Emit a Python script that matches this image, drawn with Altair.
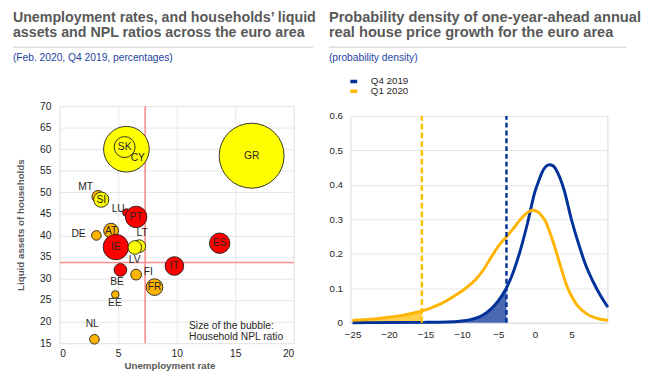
import altair as alt
import pandas as pd

FONT = "Liberation Sans"
TITLE_GREY = "#595959"
SUB_BLUE = "#2443a3"
TXT = "#262626"

# ---------------- Left panel data ----------------
countries = ["GR", "CY", "SK", "MT", "SI", "LU", "PT", "AT", "DE", "IE",
             "LT", "LV", "BE", "FI", "FR", "IT", "ES", "EE", "NL"]
unemployment = [16.4, 5.7, 5.55, 3.28, 3.55, 5.7, 6.53, 4.39, 3.14, 4.8,
                6.8, 6.42, 5.19, 6.53, 8.1, 9.8, 13.67, 4.75, 2.97]
liquid_assets = [58.5, 60.0, 60.5, 49.0, 48.3, 45.3, 44.3, 41.1, 40.0, 37.3,
                 37.5, 37.2, 32.0, 30.9, 28.0, 32.9, 38.2, 26.3, 15.9]
npl_ratio = [36.5, 18.0, 3.8, 1.3, 2.0, 0.5, 4.0, 1.9, 0.8, 5.6,
             1.4, 1.6, 1.4, 1.0, 2.4, 3.0, 3.6, 0.5, 0.8]
bubble_group = ["yellow", "yellow", "yellow", "orange", "yellow", "red", "red", "orange", "orange", "red",
                "yellow", "yellow", "red", "orange", "orange", "red", "red", "orange", "orange"]
label_x = [16.4, 6.67, 5.55, 2.22, 3.55, 5.0, 6.53, 4.39, 1.61, 4.8,
           7.05, 6.4, 4.9, 7.57, 8.1, 9.8, 13.67, 4.72, 2.78]
label_y = [58.5, 58.0, 60.5, 51.2, 48.3, 46.0, 44.3, 41.1, 40.2, 37.3,
           40.5, 34.2, 29.1, 31.6, 28.0, 32.9, 38.2, 24.2, 19.35]
ea_unemployment = 7.3
ea_liquid = 33.7
note_lines = ["Size of the bubble:", "Household NPL ratio"]
note_x = [11.05, 11.05]
note_y = [19.0, 16.3]

left_title = ["Unemployment rates, and households\u2019 liquid",
              "assets and NPL ratios across the euro area"]
left_subtitle = "(Feb. 2020, Q4 2019, percentages)"

# ---------------- Right panel data ----------------
q4_x = [-25, -20, -15, -12, -10, -9, -8, -7, -6, -5, -4, -3.9, -3, -2, -1, 0, 0.5, 1, 1.5, 2,
        2.5, 3, 4, 5, 6, 7, 8, 9, 10]
q4_d = [0.0, 0.0005, 0.001, 0.002, 0.005, 0.008, 0.014, 0.024, 0.04, 0.064, 0.097, 0.101, 0.145,
        0.21, 0.29, 0.38, 0.41, 0.437, 0.453, 0.458, 0.455, 0.44, 0.385, 0.3, 0.228, 0.165,
        0.118, 0.078, 0.045]
q1_x = [-25, -22, -20, -18, -16, -15.5, -15, -14, -13, -12, -11, -10, -9, -8, -7, -6, -5, -4, -3,
        -2, -1, -0.3, 0.5, 1, 1.5, 2, 2.5, 3, 3.5, 4, 4.5, 5, 5.8, 7, 8, 9, 10]
q1_d = [0.007, 0.011, 0.016, 0.022, 0.031, 0.034, 0.037, 0.045, 0.054, 0.065, 0.078, 0.092, 0.108,
        0.128, 0.155, 0.19, 0.222, 0.247, 0.272, 0.299, 0.32, 0.326, 0.32, 0.308, 0.292, 0.265,
        0.234, 0.2, 0.165, 0.13, 0.1, 0.078, 0.05, 0.027, 0.016, 0.01, 0.007]
q4_threshold = -3.9
q1_threshold = -15.5
x_max = 10
y_max = 0.6
series_names = ["Q4 2019", "Q1 2020"]
series_colors = ["#003299", "#ffb400"]

right_title = ["Probability density of one-year-ahead annual",
               "real house price growth for the euro area"]
right_subtitle = "(probability density)"

# ================= Left panel =================
df_b = pd.DataFrame({"country": countries, "unemployment": unemployment,
                     "liquid": liquid_assets, "npl": npl_ratio, "group": bubble_group,
                     "idx": list(range(len(countries)))})
df_lab = pd.DataFrame({"country": countries, "unemployment": label_x, "liquid": label_y})
df_note = pd.DataFrame({"t": note_lines, "unemployment": note_x, "liquid": note_y})

xl = alt.X("unemployment:Q", scale=alt.Scale(domain=[0, 20], nice=False),
           axis=alt.Axis(values=[0, 5, 10, 15, 20], title="Unemployment rate", grid=True,
                         gridColor="#e6e6e6", ticks=False, domain=False, labelFontSize=10.5,
                         labelColor=TXT, labelPadding=6, titleFontSize=10, titleColor=TITLE_GREY,
                         titleFontWeight="bold", titlePadding=2, titleX=112.5))
yl = alt.Y("liquid:Q", scale=alt.Scale(domain=[15, 70], nice=False),
           axis=alt.Axis(values=list(range(15, 71, 5)), title="Liquid assets of households",
                         grid=True, gridColor="#e6e6e6", ticks=False, domain=False,
                         labelFontSize=10.5, labelColor=TXT, labelPadding=9, titleFontSize=10,
                         titleColor=TITLE_GREY, titleFontWeight="bold", titlePadding=14))

vline = alt.Chart(pd.DataFrame({"unemployment": [ea_unemployment]})).mark_rule(
    color="#ff8c8c", strokeWidth=1.6).encode(x=xl)
hline = alt.Chart(pd.DataFrame({"liquid": [ea_liquid]})).mark_rule(
    color="#ff8c8c", strokeWidth=1.6).encode(y=yl)

bubbles = alt.Chart(df_b).mark_circle(opacity=1, stroke="#1a1a1a", strokeWidth=0.9).encode(
    x=xl, y=yl,
    size=alt.Size("npl:Q", scale=alt.Scale(domain=[0, 36.5], range=[0, 4435]), legend=None),
    color=alt.Color("group:N", scale=alt.Scale(domain=["red", "yellow", "orange"],
                                              range=["#ff0000", "#ffff00", "#ffb400"]), legend=None),
    order=alt.Order("idx:Q"))

labels = alt.Chart(df_lab).mark_text(fontSize=10.5, color=TXT, align="center",
                                     baseline="middle").encode(x=xl, y=yl, text="country:N")
note = alt.Chart(df_note).mark_text(fontSize=10.5, color=TXT, align="left",
                                    baseline="middle").encode(x=xl, y=yl, text="t:N")


def header(lines, sub, x0, x1, tag, fs):
    hdr = pd.DataFrame({"t": [lines[0], lines[1]], "k": [tag + "1", tag + "2"]})
    t1 = alt.Chart(hdr).transform_filter(alt.datum.k == tag + "1").mark_text(
        fontSize=fs, fontWeight="bold", color=TITLE_GREY, align="left", baseline="alphabetic"
    ).encode(x=alt.value(x0), y=alt.value(-86), text="t:N")
    t2 = alt.Chart(hdr).transform_filter(alt.datum.k == tag + "2").mark_text(
        fontSize=fs, fontWeight="bold", color=TITLE_GREY, align="left", baseline="alphabetic"
    ).encode(x=alt.value(x0), y=alt.value(-70.5), text="t:N")
    sep = alt.Chart(pd.DataFrame({"s": [tag]})).mark_rule(color="#cccccc", strokeWidth=1).encode(
        x=alt.value(x0), x2=alt.value(x1), y=alt.value(-60.5))
    st = alt.Chart(pd.DataFrame({"t": [sub]})).mark_text(
        fontSize=10.5, color=SUB_BLUE, align="left", baseline="alphabetic"
    ).encode(x=alt.value(x0), y=alt.value(-46), text="t:N")
    return [t1, t2, sep, st]


left = alt.layer(vline, hline, bubbles, labels, note,
                 *header(left_title, left_subtitle, -48, 260, "L", 14.6)).properties(
    width=240, height=243, view=alt.ViewBackground(stroke="#e6e6e6"))

# ================= Right panel =================
df_q4 = pd.DataFrame({"x": q4_x, "density": q4_d, "series": series_names[0]})
df_q1 = pd.DataFrame({"x": q1_x, "density": q1_d, "series": series_names[1]})
df_lines = pd.concat([df_q4, df_q1], ignore_index=True)

RH = 222  # full panel height; the plotting frame starts 10px below its top
xr = alt.X("x:Q", scale=alt.Scale(domain=[-25.3, x_max], nice=False, zero=False),
           axis=alt.Axis(values=[-25, -20, -15, -10, -5, 0, 5], title=None, grid=False,
                         ticks=False, domain=True, domainColor="#d9d9d9", labelFontSize=10,
                         labelColor=TXT, labelPadding=7))
yr = alt.Y("density:Q", scale=alt.Scale(domain=[0, y_max], range=[RH, 10], nice=False),
           axis=alt.Axis(values=[0, 0.1, 0.2, 0.3, 0.4, 0.5, 0.6], format="~g", title=None,
                         grid=True, gridColor="#e6e6e6", ticks=False, domain=True,
                         domainColor="#d9d9d9", labelFontSize=10, labelColor=TXT,
                         labelPadding=8))

area_q1 = alt.Chart(df_q1).transform_filter(alt.datum.x <= q1_threshold).mark_area(
    color="#ffcf4a", interpolate="monotone", opacity=1).encode(x=xr, y=yr)
area_q4 = alt.Chart(df_q4).transform_filter(alt.datum.x <= q4_threshold).mark_area(
    color="#4a69b3", interpolate="monotone", opacity=1).encode(x=xr, y=yr)

lines = alt.Chart(df_lines).mark_line(strokeWidth=3, interpolate="monotone").encode(
    x=xr, y=yr,
    color=alt.Color("series:N", scale=alt.Scale(domain=series_names, range=series_colors),
                    legend=alt.Legend(title=None, orient="none", legendX=-2, legendY=-30,
                                      symbolType="stroke", symbolStrokeWidth=3.5, symbolSize=49,
                                      labelFontSize=10, labelColor=TXT, rowPadding=-3, padding=0,
                                      clipHeight=9.5, labelOffset=12)))

df_frame = pd.DataFrame({"x": [x_max], "density": [0], "top": [y_max]})
frame_r = alt.Chart(df_frame).mark_rule(color="#d9d9d9", strokeWidth=1).encode(
    x=xr, y=yr, y2="top:Q")
dash_q1 = alt.Chart(pd.DataFrame({"x": [q1_threshold], "density": [0], "top": [y_max]})).mark_rule(
    color="#ffc000", strokeWidth=2.5, strokeDash=[6, 3]).encode(x=xr, y=yr, y2="top:Q")
dash_q4 = alt.Chart(pd.DataFrame({"x": [q4_threshold], "density": [0], "top": [y_max]})).mark_rule(
    color="#003299", strokeWidth=2.5, strokeDash=[5, 3]).encode(x=xr, y=yr, y2="top:Q")

right = alt.layer(frame_r, area_q1, area_q4, lines, dash_q1, dash_q4,
                  *header(right_title, right_subtitle, -22, 283, "R", 15)).properties(
    width=264, height=RH, view=alt.ViewBackground(stroke="transparent"))

chart = alt.hconcat(left, right, spacing=11).resolve_scale(
    color="independent", size="independent"
).properties(
    padding={"left": 4, "top": -3, "right": 0, "bottom": -2}
).configure(font=FONT)

chart.save("out.html", embed_options={"renderer": "svg", "actions": False})
